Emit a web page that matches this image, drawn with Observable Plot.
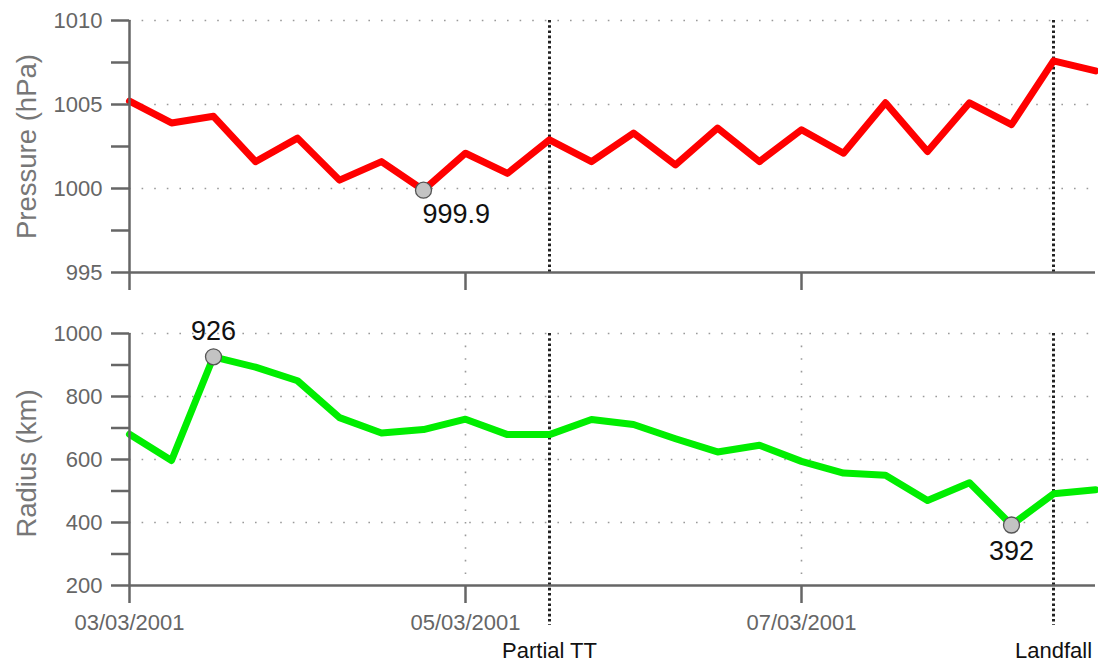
<!DOCTYPE html>
<html>
<head>
<meta charset="utf-8">
<script src="https://cdn.jsdelivr.net/npm/d3@7"></script>
<script src="https://cdn.jsdelivr.net/npm/@observablehq/plot@0.6"></script>
<style>
  html, body { margin: 0; padding: 0; background: #fff; }
  #chart svg { display: block; }
</style>
</head>
<body>
<div id="chart"></div>
<script>
// ---- data (6-hourly, UTC) ----
const times = [
  "2001-03-03T00:00Z","2001-03-03T06:00Z","2001-03-03T12:00Z","2001-03-03T18:00Z",
  "2001-03-04T00:00Z","2001-03-04T06:00Z","2001-03-04T12:00Z","2001-03-04T18:00Z",
  "2001-03-05T00:00Z","2001-03-05T06:00Z","2001-03-05T12:00Z","2001-03-05T18:00Z",
  "2001-03-06T00:00Z","2001-03-06T06:00Z","2001-03-06T12:00Z","2001-03-06T18:00Z",
  "2001-03-07T00:00Z","2001-03-07T06:00Z","2001-03-07T12:00Z","2001-03-07T18:00Z",
  "2001-03-08T00:00Z","2001-03-08T06:00Z","2001-03-08T12:00Z","2001-03-08T18:00Z"
];
const pressure = [1005.2, 1003.9, 1004.3, 1001.6, 1003.0, 1000.5, 1001.6, 999.9,
                  1002.1, 1000.9, 1002.9, 1001.6, 1003.3, 1001.4, 1003.6, 1001.6,
                  1003.5, 1002.1, 1005.1, 1002.2, 1005.1, 1003.8, 1007.6, 1007.0];
const radius = [680, 597, 926, 893, 850, 733, 684, 695,
                728, 679, 679, 727, 711, 666, 624, 645,
                594, 557, 550, 470, 526, 392, 491, 504];

const eventNames = ["Partial TT", "Landfall"];
const eventTimes = ["2001-03-05T12:00Z", "2001-03-08T12:00Z"];

const xTickTimes = ["2001-03-03T00:00Z", "2001-03-05T00:00Z", "2001-03-07T00:00Z"];
const xTickLabels = ["03/03/2001", "05/03/2001", "07/03/2001"];

const pressureTicks = [995, 1000, 1005, 1010];
const pressureMinor = [997.5, 1002.5, 1007.5];
const pressureGrid = [1000, 1005, 1010];
const radiusTicks = [200, 400, 600, 800, 1000];
const radiusMinor = [300, 500, 700, 900];
const radiusGrid = [400, 600, 800, 1000];

const pressureTitle = "Pressure (hPa)";
const radiusTitle = "Radius (km)";

// ---- derived tables ----
const rows = times.map((t, i) => ({time: new Date(t), pressure: pressure[i], radius: radius[i]}));
const events = eventNames.map((n, i) => ({name: n, time: new Date(eventTimes[i])}));
const xTicks = xTickTimes.map(t => new Date(t));
const xDomain = [new Date(times[0]), new Date(times[times.length - 1])];
const fmtX = d => xTickLabels[xTicks.findIndex(t => +t === +d)] ?? "";
const fmtY = d => String(d);

const pMin = rows[d3.minIndex(rows, d => d.pressure)];
const rMax = rows[d3.maxIndex(rows, d => d.radius)];
const rMin = rows[d3.minIndex(rows, d => d.radius)];

const font = "'Liberation Sans', Arial, sans-serif";
const axisColor = "#666";
const gridStyle = {stroke: "#9a9a9a", strokeWidth: 1.6, strokeDasharray: "1.6,11"};
const eventStyle = {stroke: "#222", strokeWidth: 3, strokeDasharray: "2.6,2.6"};
const lineW = 7;
const dotStyle = {r: 8, fill: "#c3c3c3", stroke: "#555", strokeWidth: 1.3};

const topChart = Plot.plot({
  width: 1098, height: 300,
  marginTop: 20, marginBottom: 28, marginLeft: 129, marginRight: 3,
  style: {fontFamily: font, background: "white", overflow: "visible"},
  x: {type: "utc", domain: xDomain},
  y: {domain: [995, 1010]},
  marks: [
    Plot.ruleY(pressureGrid, gridStyle),
    Plot.ruleX(events, {x: "time", ...eventStyle}),
    Plot.line(rows, {x: "time", y: "pressure", stroke: "#ff0000", strokeWidth: lineW}),
    Plot.dot([pMin], {x: "time", y: "pressure", ...dotStyle}),
    Plot.text([pMin], {x: "time", y: "pressure", text: d => d.pressure.toFixed(1), textAnchor: "start", dx: -1, dy: 24, fontSize: 27, fill: "#111"}),
    Plot.axisY({ticks: pressureTicks, tickSize: 18, tickPadding: 9, tickFormat: fmtY, fontSize: 22, color: axisColor, strokeWidth: 2.5, label: null}),
    Plot.axisY({ticks: pressureMinor, tickSize: 18, tickFormat: () => "", color: axisColor, strokeWidth: 2.5, label: null}),
    Plot.axisX({ticks: xTicks, tickSize: 18, tickFormat: () => "", color: axisColor, strokeWidth: 2.5, label: null}),
    Plot.ruleX([xDomain[0]], {stroke: axisColor, strokeWidth: 2.5}),
    Plot.ruleY([995], {stroke: axisColor, strokeWidth: 2.5}),
    Plot.text([pressureTitle], {frameAnchor: "left", textAnchor: "middle", lineAnchor: "middle", rotate: -90, dx: -102, fontSize: 27.5, fill: "#777"})
  ]
});

const bottomChart = Plot.plot({
  width: 1098, height: 366,
  marginTop: 33, marginBottom: 81, marginLeft: 129, marginRight: 3,
  style: {fontFamily: font, background: "white", overflow: "visible"},
  x: {type: "utc", domain: xDomain},
  y: {domain: [200, 1000]},
  marks: [
    Plot.ruleY(radiusGrid, gridStyle),
    Plot.ruleX(xTicks.slice(1), gridStyle),
    Plot.ruleX(events, {x: "time", ...eventStyle, insetBottom: -40}),
    Plot.line(rows, {x: "time", y: "radius", stroke: "#00ee00", strokeWidth: lineW}),
    Plot.dot([rMax, rMin], {x: "time", y: "radius", ...dotStyle}),
    Plot.text([rMax], {x: "time", y: "radius", text: d => String(d.radius), dy: -25, fontSize: 27, fill: "#111"}),
    Plot.text([rMin], {x: "time", y: "radius", text: d => String(d.radius), dy: 26, fontSize: 27, fill: "#111"}),
    Plot.axisY({ticks: radiusTicks, tickSize: 18, tickPadding: 9, tickFormat: fmtY, fontSize: 22, color: axisColor, strokeWidth: 2.5, label: null}),
    Plot.axisY({ticks: radiusMinor, tickSize: 18, tickFormat: () => "", color: axisColor, strokeWidth: 2.5, label: null}),
    Plot.axisX({ticks: xTicks, tickSize: 18, tickPadding: 11, tickFormat: fmtX, fontSize: 22, color: axisColor, strokeWidth: 2.5, label: null}),
    Plot.ruleX([xDomain[0]], {stroke: axisColor, strokeWidth: 2.5}),
    Plot.ruleY([200], {stroke: axisColor, strokeWidth: 2.5}),
    Plot.text(events, {x: "time", text: "name", frameAnchor: "bottom", lineAnchor: "middle", dy: 65, fontSize: 22, fill: "#111"}),
    Plot.text([radiusTitle], {frameAnchor: "left", textAnchor: "middle", lineAnchor: "middle", rotate: -90, dx: -102, dy: 4, fontSize: 27.5, fill: "#777"})
  ]
});

const chart = document.getElementById("chart");
chart.appendChild(topChart);
chart.appendChild(bottomChart);
</script>
</body>
</html>
